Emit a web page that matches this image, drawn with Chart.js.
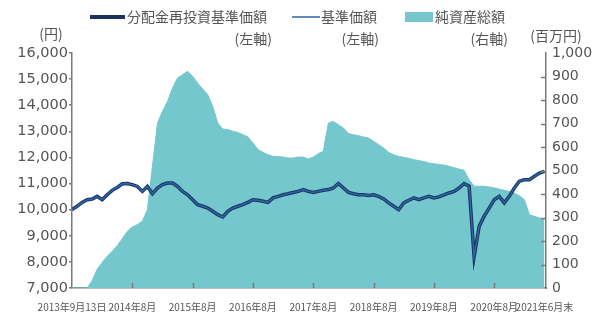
<!DOCTYPE html>
<html>
<head>
<meta charset="utf-8">
<script src="https://cdn.jsdelivr.net/npm/chart.js@4/dist/chart.umd.min.js"></script>
<style>
  html, body { margin: 0; padding: 0; background: #fff; }
  #wrap { width: 599px; height: 317px; position: relative; }
</style>
</head>
<body>
<div id="wrap"><canvas id="fundChart" width="599" height="317"></canvas></div>
<script>
// months since start of chart (2013/9/13 -> 2021/6 end), one point per month
const monthIdx = [];
for (let i = 0; i <= 94; i++) monthIdx.push(i);

// tick positions (month index) and their labels
const tickPos = [0, 12, 24, 36, 48, 60, 72, 84, 94];
const tickLabels = ['2013年9月13日', '2014年8月', '2015年8月', '2016年8月', '2017年8月',
                    '2018年8月', '2019年8月', '2020年8月', '2021年6月末'];

// 分配金再投資基準価額 (円, 左軸)
const navReinvest = [
  10000, 10130, 10280, 10380, 10410, 10510, 10380, 10570, 10740, 10850,
  10990, 11000, 10960, 10890, 10700, 10890, 10610, 10830, 10960, 11020,
  11020, 10890, 10700, 10570, 10380, 10190, 10130, 10060, 9940, 9810,
  9720, 9940, 10060, 10130, 10190, 10280, 10380, 10360, 10320, 10280,
  10450, 10510, 10570, 10610, 10660, 10700, 10770, 10700, 10660, 10700,
  10740, 10770, 10830, 11000, 10830, 10660, 10610, 10570, 10570, 10540,
  10570, 10510, 10410, 10260, 10130, 10000, 10260, 10360, 10450, 10380,
  10450, 10510, 10450, 10490, 10570, 10640, 10700, 10830, 11000, 10900,
  8200, 9360, 9750, 10060, 10380, 10510, 10260, 10510, 10830, 11090,
  11150, 11150, 11280, 11400, 11470
];

// 基準価額 (円, 左軸) - no distributions paid, so it runs on top of the reinvested line
const nav = navReinvest;

// 純資産総額 (百万円, 右軸)
const netAssets = [
  0, 0, 0, 0, 30, 80, 109, 135, 156, 180,
  210, 241, 260, 270, 284, 333, 518, 702, 752, 794,
  851, 894, 908, 922, 901, 872, 847, 823, 773, 702,
  677, 674, 667, 662, 652, 643, 617, 589, 577, 567,
  560, 560, 557, 553, 553, 557, 557, 549, 557, 572,
  582, 702, 709, 695, 681, 657, 652, 648, 643, 638,
  624, 610, 596, 577, 567, 560, 556, 552, 546, 542,
  538, 532, 529, 526, 523, 518, 512, 506, 501, 461,
  433, 433, 433, 430, 426, 421, 416, 411, 404, 393,
  376, 312, 305, 298, 291
];

const toPoints = arr => arr.map((v, i) => ({ x: monthIdx[i], y: v }));

const NAVY = '#1b3360';
const BLUE = '#2d66a6';
const TEAL = '#74c7cc';
const TEXT = '#555555';
const AXIS = '#7a7a7a';

// short tick marks pointing into the plot (bottom and right axes)
const innerTicks = {
  id: 'innerTicks',
  afterDatasetsDraw(chart) {
    const ctx = chart.ctx;
    const x = chart.scales.x, y1 = chart.scales.y1;
    ctx.save();
    ctx.strokeStyle = AXIS;
    ctx.lineWidth = 1.5;
    ctx.beginPath();
    tickPos.slice(1, -1).forEach(v => {
      const px = Math.round(x.getPixelForValue(v)) + 0.5;
      ctx.moveTo(px, x.top);
      ctx.lineTo(px, x.top - 5);
    });
    for (let v = 100; v < 1000; v += 100) {
      const py = Math.round(y1.getPixelForValue(v)) + 0.5;
      ctx.moveTo(y1.left, py);
      ctx.lineTo(y1.left - 5, py);
    }
    ctx.stroke();
    ctx.restore();
  }
};

// legend and unit labels in the top band
const topLegend = {
  id: 'topLegend',
  afterDraw(chart) {
    const ctx = chart.ctx;
    ctx.save();
    ctx.fillStyle = TEXT;
    ctx.textBaseline = 'middle';
    ctx.font = '14px "Noto Sans CJK JP"';

    // item 1
    ctx.strokeStyle = NAVY;
    ctx.lineWidth = 4;
    ctx.beginPath(); ctx.moveTo(90, 17); ctx.lineTo(125, 17); ctx.stroke();
    ctx.textAlign = 'left';
    ctx.fillText('分配金再投資基準価額', 127, 17, 149);
    ctx.textAlign = 'right';
    ctx.fillText('(左軸)', 272, 39);

    // item 2
    ctx.strokeStyle = BLUE;
    ctx.lineWidth = 1.5;
    ctx.beginPath(); ctx.moveTo(292, 17); ctx.lineTo(320, 17); ctx.stroke();
    ctx.textAlign = 'left';
    ctx.fillText('基準価額', 321, 17, 60);
    ctx.textAlign = 'right';
    ctx.fillText('(左軸)', 379, 39);

    // item 3
    ctx.fillStyle = TEAL;
    ctx.fillRect(405, 12, 28, 10);
    ctx.fillStyle = TEXT;
    ctx.textAlign = 'left';
    ctx.fillText('純資産総額', 435, 17, 73);
    ctx.textAlign = 'right';
    ctx.fillText('(右軸)', 508, 39);

    // units
    ctx.textAlign = 'center';
    ctx.fillText('(円)', 51, 34);
    ctx.fillText('(百万円)', 556, 36);
    ctx.restore();
  }
};

new Chart(document.getElementById('fundChart'), {
  type: 'line',
  data: {
    datasets: [
      {
        label: '基準価額',
        data: toPoints(nav),
        yAxisID: 'y',
        borderColor: BLUE,
        borderWidth: 1.5,
        pointRadius: 0,
        tension: 0,
        order: 1
      },
      {
        label: '分配金再投資基準価額',
        data: toPoints(navReinvest),
        yAxisID: 'y',
        borderColor: NAVY,
        borderWidth: 3.5,
        pointRadius: 0,
        tension: 0,
        order: 2
      },
      {
        label: '純資産総額',
        data: toPoints(netAssets),
        yAxisID: 'y1',
        borderColor: TEAL,
        borderWidth: 1,
        backgroundColor: TEAL,
        fill: 'origin',
        pointRadius: 0,
        tension: 0,
        order: 3
      }
    ]
  },
  options: {
    responsive: false,
    animation: false,
    layout: { padding: { top: 53, left: 0, right: 0, bottom: 0 } },
    plugins: {
      legend: { display: false },
      tooltip: { enabled: false }
    },
    scales: {
      x: {
        type: 'linear',
        min: 0,
        max: 94.3,
        afterBuildTicks: scale => { scale.ticks = tickPos.map(v => ({ value: v })); },
        afterFit: scale => { scale.height = 29; },
        grid: { display: false, drawTicks: false },
        border: { color: AXIS, width: 1.5 },
        ticks: {
          autoSkip: false,
          maxRotation: 0,
          padding: 13,
          color: TEXT,
          font: { family: '"Noto Sans CJK JP"', size: 10 },
          callback: v => tickLabels[tickPos.indexOf(v)]
        }
      },
      y: {
        position: 'left',
        min: 7000,
        max: 16000,
        afterFit: scale => { scale.width = 72; },
        grid: { drawOnChartArea: false, tickLength: 3, color: AXIS, lineWidth: 1.5 },
        border: { color: AXIS, width: 1.5 },
        ticks: {
          stepSize: 1000,
          padding: 1,
          color: TEXT,
          font: { family: 'DejaVu Sans', size: 14.5 },
          callback: v => v.toLocaleString('en-US')
        }
      },
      y1: {
        position: 'right',
        min: 0,
        max: 1000,
        afterFit: scale => { scale.width = 53; },
        grid: { drawOnChartArea: false, drawTicks: false },
        border: { color: AXIS, width: 1.5 },
        ticks: {
          stepSize: 100,
          padding: 6,
          color: TEXT,
          font: { family: 'DejaVu Sans', size: 14 },
          callback: v => v.toLocaleString('en-US')
        }
      }
    }
  },
  plugins: [innerTicks, topLegend]
});
</script>
</body>
</html>
